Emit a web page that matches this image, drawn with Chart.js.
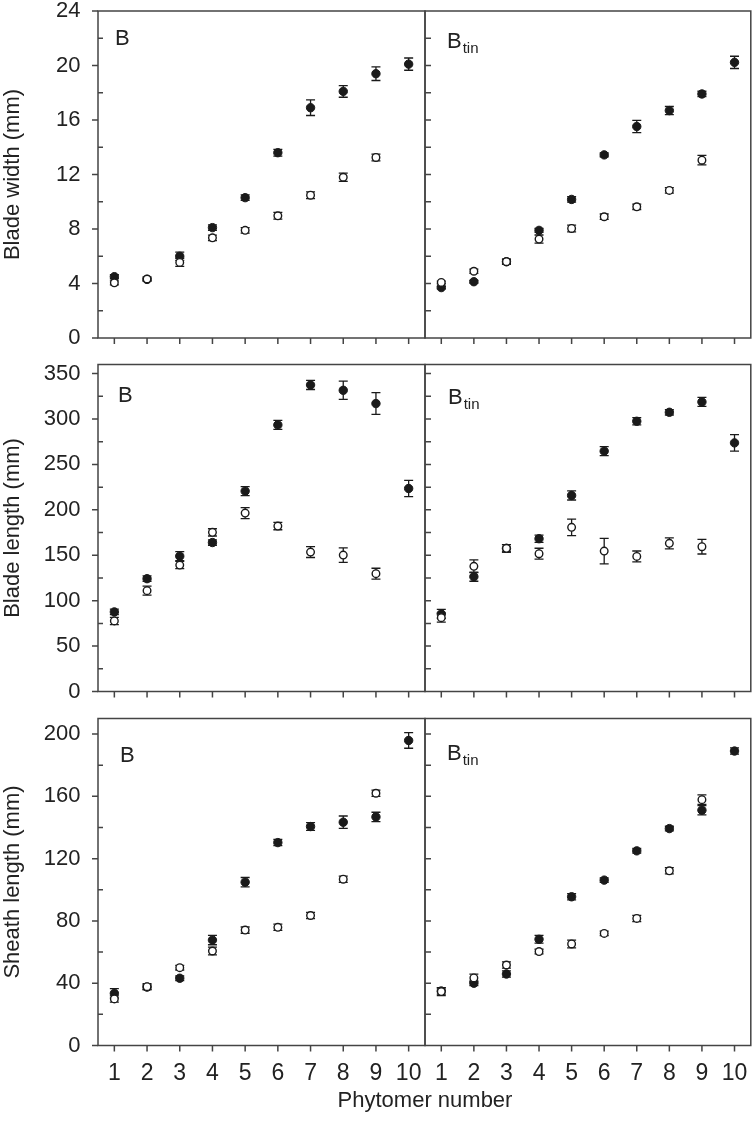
<!DOCTYPE html>
<html>
<head>
<meta charset="utf-8">
<script src="https://cdn.jsdelivr.net/npm/chart.js@4.4.0/dist/chart.umd.min.js"></script>
<style>
  body { margin: 0; background: #fff; }
  #wrap { position: relative; width: 756px; height: 1133px; }
  #wrap canvas { position: absolute; left: 0; top: 0; }
</style>
</head>
<body>
<div id="wrap">
  <canvas id="c1" width="756" height="1133"></canvas>
  <canvas id="c2" width="756" height="1133"></canvas>
  <canvas id="c3" width="756" height="1133"></canvas>
  <canvas id="c4" width="756" height="1133"></canvas>
  <canvas id="c5" width="756" height="1133"></canvas>
  <canvas id="c6" width="756" height="1133"></canvas>
</div>
<script>
const phytomer = [1, 2, 3, 4, 5, 6, 7, 8, 9, 10];

// blade width (mm)
const widthTicks = [0, 4, 8, 12, 16, 20, 24];
const widthB_filled = [4.5, 4.3, 6.0, 8.1, 10.3, 13.6, 16.9, 18.1, 19.4, 20.1];
const widthB_filledErr = [0.15, 0.1, 0.3, 0.2, 0.2, 0.25, 0.57, 0.43, 0.5, 0.45];
const widthB_open = [4.05, 4.33, 5.55, 7.35, 7.9, 8.97, 10.48, 11.8, 13.25, null];
const widthB_openErr = [0.15, 0.15, 0.3, 0.2, 0.2, 0.25, 0.25, 0.3, 0.25, null];
const widthT_filled = [3.7, 4.13, 5.6, 7.9, 10.17, 13.44, 15.52, 16.69, 17.91, 20.23];
const widthT_filledErr = [0.1, 0.1, 0.15, 0.15, 0.2, 0.15, 0.45, 0.3, 0.2, 0.45];
const widthT_open = [4.08, 4.9, 5.6, 7.26, 8.04, 8.9, 9.63, 10.83, 13.05, null];
const widthT_openErr = [0.1, 0.15, 0.2, 0.3, 0.25, 0.2, 0.2, 0.2, 0.35, null];

// blade length (mm)
const lengthTicks = [0, 50, 100, 150, 200, 250, 300, 350];
const lengthB_filled = [87.6, 124.2, 149, 164, 220.6, 293.5, 337.5, 331.6, 317, 223.5];
const lengthB_filledErr = [3, 3, 5, 3, 5, 5, 5, 10, 12, 9];
const lengthB_open = [77.7, 111, 139.2, 175.2, 196.4, 182.1, 153.5, 150.2, 129.7, null];
const lengthB_openErr = [4, 5, 4, 4, 6, 4, 6, 8, 6, null];
const lengthT_filled = [85.4, 126.4, 157.6, 168.2, 215.8, 264.6, 297.5, 307.4, 318.8, 273.7];
const lengthT_filledErr = [5, 5, 4, 4, 5, 5, 4, 3, 5, 9];
const lengthT_open = [81.3, 137.8, 157.6, 151.7, 180.7, 154.6, 148.7, 163.1, 159.4, null];
const lengthT_openErr = [5, 7, 4, 6, 9, 14, 6, 6, 8, null];

// sheath length (mm)
const sheathTicks = [0, 40, 80, 120, 160, 200];
const sheathB_filled = [33.5, 37.5, 43.2, 67.7, 104.9, 130.3, 140.6, 143.4, 146.8, 195.9];
const sheathB_filledErr = [3, 1.5, 1.5, 3, 3, 2, 2.5, 4, 3, 5];
const sheathB_open = [29.9, 37.8, 50, 60.7, 74.1, 75.9, 83.5, 106.8, 162, null];
const sheathB_openErr = [2, 2, 1.5, 2.5, 2, 2, 2, 2, 2, null];
const sheathT_filled = [35, 40, 45.9, 68.2, 95.5, 106.2, 125, 139.3, 151.1, 189.1];
const sheathT_filledErr = [2, 1.5, 2, 2.5, 2, 1.5, 1.5, 1.5, 3, 2];
const sheathT_open = [34.6, 43.4, 51.7, 60.3, 65.2, 72, 81.6, 112.2, 157.9, null];
const sheathT_openErr = [2.5, 2.5, 2, 1.5, 2.5, 1.5, 2, 2, 3, null];

const ink = '#1a1a1a';
const axisCol = '#444';
const textCol = '#222';
const family = '"Liberation Sans", Arial, sans-serif';
Chart.defaults.font.family = family;

// chart area of each column / row on the page
const colX = [[98, 425], [425, 753]];
const rowY = [[11, 338], [364.5, 691.5], [718.5, 1045.5]];

const panels = [
  { id: 'c1', col: 0, row: 0, max: 24, minor: 2, ticks: widthTicks, title: 'Blade width (mm)', sub: '', lab: [17, 34],
    filled: widthB_filled, filledErr: widthB_filledErr, open: widthB_open, openErr: widthB_openErr },
  { id: 'c2', col: 1, row: 0, max: 24, minor: 2, ticks: widthTicks, sub: 'tin', lab: [22, 37],
    filled: widthT_filled, filledErr: widthT_filledErr, open: widthT_open, openErr: widthT_openErr },
  { id: 'c3', col: 0, row: 1, max: 360, minor: 25, ticks: lengthTicks, title: 'Blade length (mm)', sub: '', lab: [20, 37],
    filled: lengthB_filled, filledErr: lengthB_filledErr, open: lengthB_open, openErr: lengthB_openErr },
  { id: 'c4', col: 1, row: 1, max: 360, minor: 25, ticks: lengthTicks, sub: 'tin', lab: [23, 39],
    filled: lengthT_filled, filledErr: lengthT_filledErr, open: lengthT_open, openErr: lengthT_openErr },
  { id: 'c5', col: 0, row: 2, max: 210, minor: 20, ticks: sheathTicks, title: 'Sheath length (mm)', sub: '', lab: [22, 43],
    filled: sheathB_filled, filledErr: sheathB_filledErr, open: sheathB_open, openErr: sheathB_openErr },
  { id: 'c6', col: 1, row: 2, max: 210, minor: 20, ticks: sheathTicks, sub: 'tin', lab: [22, 41.5],
    filled: sheathT_filled, filledErr: sheathT_filledErr, open: sheathT_open, openErr: sheathT_openErr }
];

function toPts(vals) {
  return phytomer.map((x, i) => ({ x: x, y: vals[i] })).filter(p => p.y !== null);
}

const panelDecor = {
  id: 'panelDecor',
  beforeDatasetsDraw(chart) {
    const ctx = chart.ctx, xs = chart.scales.x, ys = chart.scales.y;
    ctx.save();
    ctx.strokeStyle = ink;
    ctx.lineWidth = 1.3;
    chart.data.datasets.forEach(ds => {
      ds.data.forEach(pt => {
        const e = ds.errors[phytomer.indexOf(pt.x)];
        if (!e) return;
        const px = xs.getPixelForValue(pt.x);
        const y1 = ys.getPixelForValue(pt.y - e);
        const y2 = ys.getPixelForValue(pt.y + e);
        ctx.beginPath();
        ctx.moveTo(px, y1); ctx.lineTo(px, y2);
        ctx.moveTo(px - 4.5, y1); ctx.lineTo(px + 4.5, y1);
        ctx.moveTo(px - 4.5, y2); ctx.lineTo(px + 4.5, y2);
        ctx.stroke();
      });
    });
    ctx.restore();
  },
  afterDraw(chart) {
    const p = chart.options.plugins.panelDecor.panel;
    const ctx = chart.ctx, a = chart.chartArea, xs = chart.scales.x, ys = chart.scales.y;
    ctx.save();
    ctx.strokeStyle = axisCol;
    ctx.lineWidth = 1.5;
    ctx.strokeRect(a.left, a.top, a.right - a.left, a.bottom - a.top);
    ctx.beginPath();
    phytomer.forEach(v => {
      const px = xs.getPixelForValue(v);
      ctx.moveTo(px, a.bottom); ctx.lineTo(px, a.bottom + 6);
    });
    for (let v = 0; v <= p.max + 1e-9; v += p.minor) {
      const py = ys.getPixelForValue(v);
      const major = p.ticks.includes(v);
      if (p.col === 0) {
        if (major) { ctx.moveTo(a.left - 6, py); ctx.lineTo(a.left, py); }
        else { ctx.moveTo(a.left, py); ctx.lineTo(a.left + 5, py); }
      } else if (v > 0 && v < p.max) {
        ctx.moveTo(a.left, py); ctx.lineTo(a.left + 6, py);
      }
    }
    ctx.stroke();

    ctx.fillStyle = textCol;
    ctx.textBaseline = 'alphabetic';
    ctx.textAlign = 'left';
    ctx.font = '22px ' + family;
    const lx = a.left + p.lab[0], ly = a.top + p.lab[1];
    ctx.fillText('B', lx, ly);
    if (p.sub) {
      const w = ctx.measureText('B').width;
      ctx.font = '15px ' + family;
      ctx.fillText(p.sub, lx + w + 1, ly + 5);
    }
    if (p.id === 'c5') {
      ctx.font = '22px ' + family;
      ctx.textAlign = 'center';
      ctx.fillText('Phytomer number', 425, 1107);
    }
    ctx.restore();
  }
};

panels.forEach(p => {
  const [left, right] = colX[p.col];
  const [top, bottom] = rowY[p.row];
  const isLeft = p.col === 0, isBottom = p.row === 2;
  const yW = isLeft ? 98 : 0;
  const xH = isBottom ? 45 : 0;
  new Chart(document.getElementById(p.id), {
    type: 'scatter',
    data: {
      datasets: [
        { data: toPts(p.open), errors: p.openErr, pointRadius: 3.8, pointHoverRadius: 3.8,
          backgroundColor: '#fff', borderColor: ink, borderWidth: 1.4 },
        { data: toPts(p.filled), errors: p.filledErr, pointRadius: 4.2, pointHoverRadius: 4.2,
          backgroundColor: ink, borderColor: ink, borderWidth: 1 }
      ]
    },
    options: {
      responsive: false,
      animation: false,
      devicePixelRatio: 1,
      events: [],
      layout: { padding: { left: left - yW, right: 756 - right, top: top, bottom: 1133 - bottom - xH } },
      plugins: { legend: { display: false }, tooltip: { enabled: false }, panelDecor: { panel: p } },
      scales: {
        x: {
          type: 'linear', min: 0.5, max: 10.5, display: isBottom,
          afterBuildTicks: s => { s.ticks = phytomer.map(v => ({ value: v })); },
          afterFit: s => { s.height = xH; s.paddingLeft = 0; s.paddingRight = 0; },
          grid: { display: false, drawTicks: false }, border: { display: false },
          ticks: { font: { size: 23 }, color: textCol, padding: 14, maxRotation: 0, autoSkip: false }
        },
        y: {
          type: 'linear', min: 0, max: p.max, display: isLeft,
          afterBuildTicks: s => { s.ticks = p.ticks.map(v => ({ value: v })); },
          afterFit: s => { s.width = yW; s.paddingTop = 0; s.paddingBottom = 0; },
          grid: { display: false, drawTicks: false }, border: { display: false },
          ticks: { font: { size: 22 }, color: textCol, padding: 17.5, autoSkip: false },
          title: { display: isLeft, text: p.title || '', font: { size: 22 }, color: textCol, padding: 0 }
        }
      }
    },
    plugins: [panelDecor]
  });
});
</script>
</body>
</html>
